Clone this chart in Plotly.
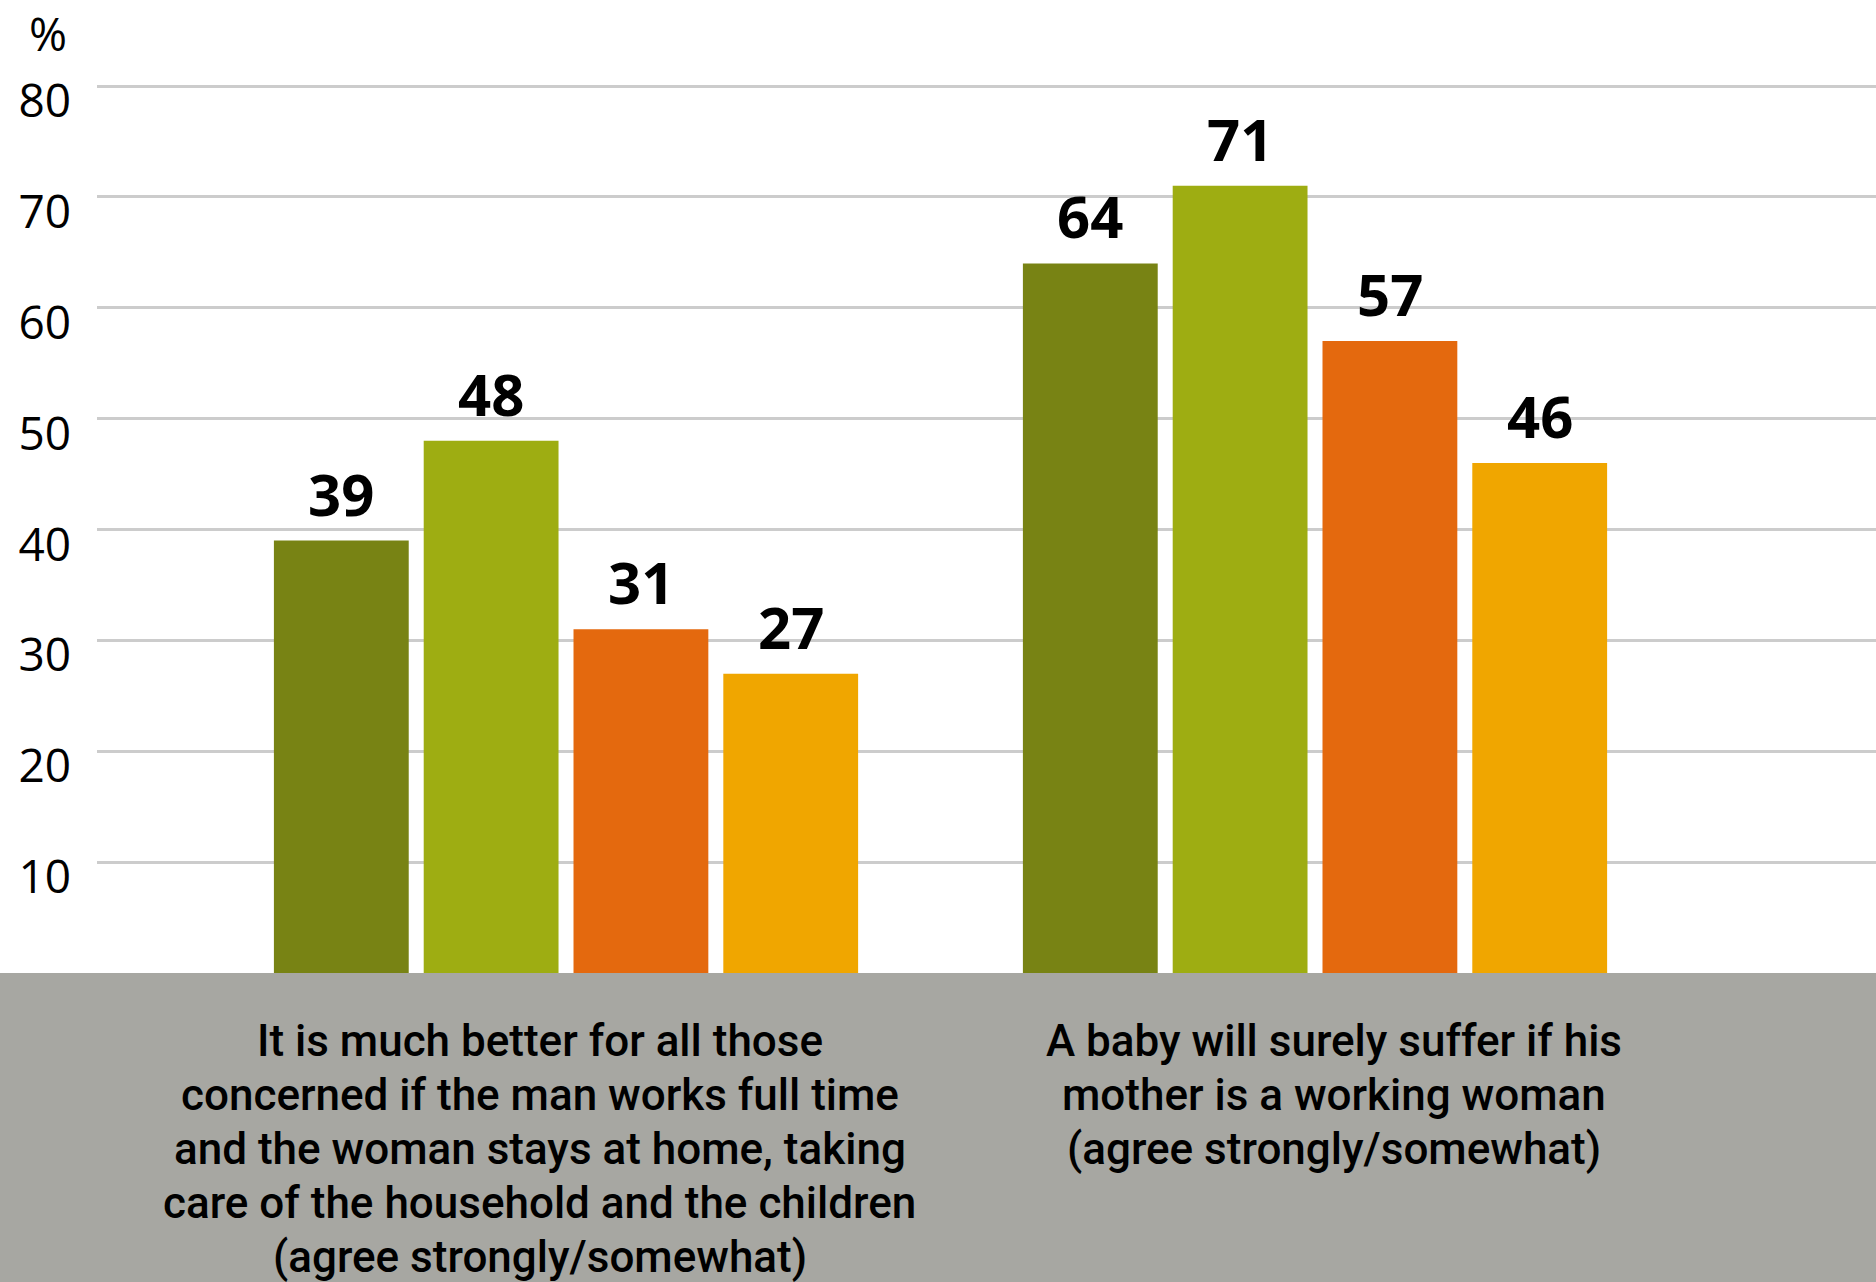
import plotly.graph_objects as go

# survey statements (x categories), split into their printed lines
statements = [
    ["It is much better for all those",
     "concerned if the man works full time",
     "and the woman stays at home, taking",
     "care of the household and the children",
     "(agree strongly/somewhat)"],
    ["A baby will surely suffer if his",
     "mother is a working woman",
     "(agree strongly/somewhat)"],
]
# the four bar series
series_1 = [39, 64]
series_2 = [48, 71]
series_3 = [31, 57]
series_4 = [27, 46]
all_series = [series_1, series_2, series_3, series_4]
colors = ["#788314", "#9EAD12", "#E4690E", "#F0A600"]
y_ticks = [10, 20, 30, 40, 50, 60, 70, 80]

BARGAP = 0.2
GROUPGAP = 0.1
positions = list(range(len(statements)))

fig = go.Figure()
for vals, col in zip(all_series, colors):
    fig.add_trace(go.Bar(x=positions, y=vals, marker_color=col, marker_line_width=0,
                         showlegend=False, hoverinfo="y"))

# value labels above every bar
slot = (1 - BARGAP) / len(all_series)
for si, vals in enumerate(all_series):
    for gi, v in enumerate(vals):
        fig.add_annotation(x=gi + (si - (len(all_series) - 1) / 2) * slot, y=v,
                           text=str(v), showarrow=False, yanchor="bottom", yshift=6,
                           font=dict(family="Open Sans", size=58, color="black", weight="bold"))

# grey band holding the statement texts
fig.add_shape(type="rect", xref="paper", yref="paper", x0=-0.1, x1=1.05, y0=-0.4, y1=0,
              fillcolor="#A7A7A2", line_width=0, layer="below")
label_x = [0.249, 0.6953]
for lx, lines in zip(label_x, statements):
    for i, line in enumerate(lines):
        fig.add_annotation(xref="paper", yref="paper", x=lx, y=0, text=line, showarrow=False,
                           xanchor="center", yanchor="middle", yshift=-68 - 54 * i,
                           font=dict(family="Roboto", size=44, color="black", weight=500))

fig.add_annotation(xref="paper", yref="paper", x=-0.0157, y=0.966, text="%", showarrow=False,
                   xanchor="right", yanchor="middle",
                   font=dict(family="Open Sans", size=46, color="black"))

fig.update_layout(
    width=1876, height=1282,
    margin=dict(l=97, r=0, t=0, b=309),
    plot_bgcolor="white", paper_bgcolor="white",
    barmode="group", bargap=BARGAP, bargroupgap=GROUPGAP,
)
fig.update_xaxes(range=[-0.6262, 1.749], showticklabels=False, showgrid=False,
                 zeroline=False, showline=False)
fig.update_yaxes(range=[0, 87.76], tickvals=y_ticks, showgrid=True, gridcolor="#CCCCCC",
                 gridwidth=2.5, zeroline=False, showline=False, ticks="",
                 ticklabelshift=15, ticklabelstandoff=25,
                 tickfont=dict(family="Open Sans", size=46, color="black"))

fig.write_html("out.html", config={"displayModeBar": False},
               post_script="document.body.style.margin='0';")
